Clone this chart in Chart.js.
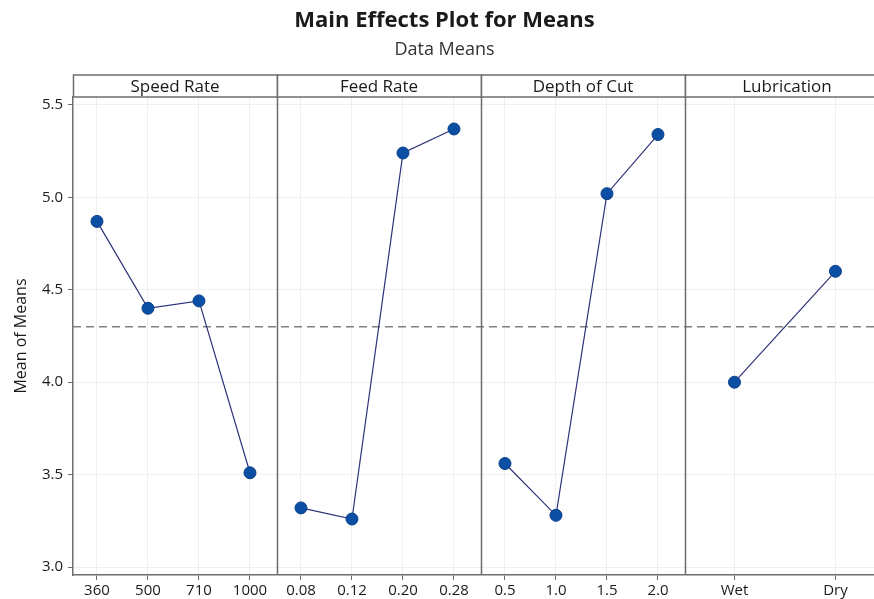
<!DOCTYPE html>
<html>
<head>
<meta charset="utf-8">
<script src="https://cdn.jsdelivr.net/npm/chart.js@4"></script>
<style>
  html, body { margin: 0; padding: 0; background: #fff; overflow: hidden; }
  #wrap { position: relative; width: 874px; height: 599px; overflow: hidden; }
</style>
</head>
<body>
<div id="wrap"><canvas id="myChart" width="904" height="599"></canvas></div>
<script>
// factor names and their levels / means
const panelTitles = ['Speed Rate', 'Feed Rate', 'Depth of Cut', 'Lubrication'];
const speedLevels = ['360', '500', '710', '1000'];
const speedMeans = [4.87, 4.40, 4.44, 3.51];
const feedLevels = ['0.08', '0.12', '0.20', '0.28'];
const feedMeans = [3.32, 3.26, 5.24, 5.37];
const depthLevels = ['0.5', '1.0', '1.5', '2.0'];
const depthMeans = [3.56, 3.28, 5.02, 5.34];
const lubLevels = ['Wet', 'Dry'];
const lubMeans = [4.00, 4.60];
const grandMean = 4.30;
const yTicks = [3.0, 3.5, 4.0, 4.5, 5.0, 5.5];

(() => {
    const ctx = document.getElementById('myChart').getContext('2d');
    const FONT = "'Open Sans', 'Noto Sans', sans-serif";
    const PANEL = 4; // width of each panel in x units

    const factors = [
        { levels: speedLevels, means: speedMeans },
        { levels: feedLevels, means: feedMeans },
        { levels: depthLevels, means: depthMeans },
        { levels: lubLevels, means: lubMeans }
    ];

    // x position of level j inside panel i
    const xPos = (i, j, n) => n === 2 ? i * PANEL + 0.97 + j * 1.98 : i * PANEL + 0.47 + j;

    let tickPositions = [];
    let tickLabels = [];
    const datasets = factors.map((f, i) => {
        const pts = f.means.map((m, j) => {
            tickPositions.push(xPos(i, j, f.levels.length));
            tickLabels.push(f.levels[j]);
            return { x: xPos(i, j, f.levels.length), y: m };
        });
        return {
            data: pts,
            borderColor: '#2d3278',
            borderWidth: 1.2,
            pointRadius: 6,
            pointHoverRadius: 6,
            pointBackgroundColor: '#0a4fa3',
            pointBorderColor: '#0a3f88',
            pointBorderWidth: 1
        };
    });

    datasets.push({
        data: [{ x: 0, y: grandMean }, { x: PANEL * 4, y: grandMean }],
        borderColor: '#808080',
        borderWidth: 1.3,
        borderDash: [8, 5],
        pointRadius: 0
    });

    const panelPlugin = {
        id: 'panels',
        afterDraw(chart) {
            const { ctx, chartArea, scales } = chart;
            const x = scales.x;
            ctx.save();
            ctx.strokeStyle = '#6e6e6e';
            ctx.lineWidth = 1.5;
            // dividers
            for (let i = 1; i < 4; i++) {
                const px = Math.round(x.getPixelForValue(i * PANEL)) + 0.5;
                ctx.beginPath();
                ctx.moveTo(px, chartArea.top);
                ctx.lineTo(px, chartArea.bottom);
                ctx.stroke();
            }
            // header strips
            const h = 22;
            panelTitles.forEach((t, i) => {
                const x0 = x.getPixelForValue(i * PANEL);
                const x1 = x.getPixelForValue((i + 1) * PANEL);
                ctx.fillStyle = '#fff';
                ctx.fillRect(x0, chartArea.top - h, x1 - x0, h);
                ctx.strokeRect(Math.round(x0) + 0.5, chartArea.top - h, x1 - x0, h);
                ctx.fillStyle = '#1a1a1a';
                ctx.font = '17px ' + FONT;
                ctx.textAlign = 'center';
                ctx.textBaseline = 'middle';
                ctx.fillText(t, (x0 + x1) / 2, chartArea.top - h / 2 + 1);
            });
            ctx.restore();
        }
    };

    new Chart(ctx, {
        type: 'line',
        data: { datasets: datasets },
        plugins: [panelPlugin],
        options: {
            responsive: false,
            animation: false,
            layout: { padding: { left: 0, right: 15, top: 0, bottom: 0 } },
            plugins: {
                legend: { display: false },
                tooltip: { enabled: false },
                title: {
                    display: true,
                    text: 'Main Effects Plot for Means',
                    color: '#1a1a1a',
                    font: { family: FONT, size: 22, weight: 'bold' },
                    padding: { top: 8, bottom: 5 }
                },
                subtitle: {
                    display: true,
                    text: 'Data Means',
                    color: '#333',
                    font: { family: FONT, size: 18 },
                    padding: { top: 0, bottom: 36 }
                }
            },
            scales: {
                x: {
                    type: 'linear',
                    min: 0,
                    max: PANEL * 4,
                    afterBuildTicks: (scale) => {
                        scale.ticks = tickPositions.map(v => ({ value: v }));
                    },
                    afterFit: (scale) => {
                        scale.height = 24;
                        scale.paddingLeft = 0;
                        scale.paddingRight = 0;
                    },
                    ticks: {
                        autoSkip: false,
                        maxRotation: 0,
                        padding: 2,
                        color: '#1a1a1a',
                        font: { family: FONT, size: 15 },
                        callback: (value, index) => tickLabels[index]
                    },
                    grid: { color: '#efefef', tickColor: '#6e6e6e', tickLength: 5 },
                    border: { color: '#6e6e6e', width: 1.5 }
                },
                y: {
                    min: 2.957,
                    max: 5.543,
                    afterBuildTicks: (scale) => {
                        scale.ticks = yTicks.map(v => ({ value: v }));
                    },
                    afterFit: (scale) => { scale.width = 73; },
                    title: {
                        display: true,
                        text: 'Mean of Means',
                        color: '#1a1a1a',
                        font: { family: FONT, size: 16 },
                        padding: { top: 12, bottom: 2 }
                    },
                    ticks: {
                        padding: 5,
                        color: '#1a1a1a',
                        font: { family: FONT, size: 15 },
                        callback: (value) => value.toFixed(1)
                    },
                    grid: { color: '#efefef', tickColor: '#6e6e6e', tickLength: 5 },
                    border: { color: '#6e6e6e', width: 1.5 }
                }
            }
        }
    });
})();
</script>
</body>
</html>
